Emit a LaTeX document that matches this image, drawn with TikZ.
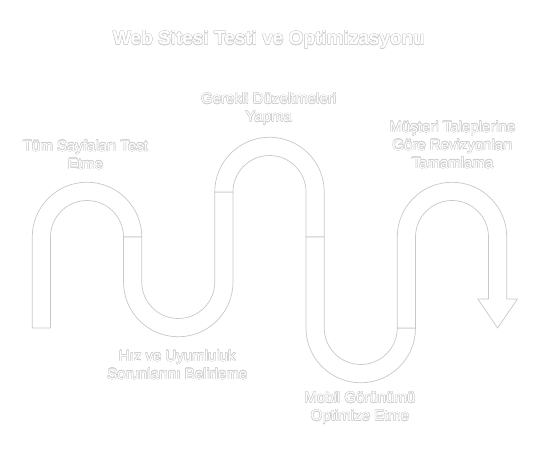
\documentclass[tikz,border=0pt]{standalone}
\usepackage{fontspec}
\setmainfont{Liberation Sans}
\usepackage[copies]{contour}
\contourlength{0.4pt}
\contournumber{16}
\definecolor{edgegray}{RGB}{200,200,200}
\definecolor{textgray}{RGB}{208,208,208}
\newcommand{\ol}[1]{\contour{textgray}{\textcolor{white}{#1}}}
\begin{document}
\begin{tikzpicture}[x=1pt,y=1pt,
  band/.style={draw=edgegray,fill=white,line width=0.7pt,line join=round},
  lbl/.style={inner sep=0pt,align=center,font=\fontsize{15}{18}\selectfont},
  ttl/.style={inner sep=0pt,align=center,font=\fontsize{19}{23}\selectfont\bfseries}]
\useasboundingbox (0,0) rectangle (540,467);
\fill[white] (0,0) rectangle (540,467);
% segment 1
\path[band] (32.25,139) -- (32.25,230) arc[start angle=180,end angle=0,radius=54.75pt]
  -- (123.5,230) arc[start angle=0,end angle=180,radius=36.5pt] -- (50.5,139) -- cycle;
% segment 2
\path[band] (123.5,230) -- (141.75,230) -- (141.75,185) arc[start angle=180,end angle=360,radius=36.5pt]
  -- (214.75,275) -- (233,275) -- (233,185) arc[start angle=0,end angle=-180,radius=54.75pt] -- cycle;
% segment 3
\path[band] (214.75,275) arc[start angle=180,end angle=0,radius=54.75pt]
  -- (324.25,230) -- (306,230) -- (306,275) arc[start angle=0,end angle=180,radius=36.5pt] -- cycle;
% segment 4
\path[band] (306,230) -- (324.25,230) -- (324.25,139) arc[start angle=180,end angle=360,radius=36.5pt]
  -- (415.5,139) arc[start angle=0,end angle=-180,radius=54.75pt] -- cycle;
% segment 5 with arrow
\path[band] (397.25,139) -- (397.25,230) arc[start angle=180,end angle=0,radius=54.75pt]
  -- (506.75,168) -- (517.4,168) -- (497.6,139) -- (477.8,168) -- (488.5,168)
  -- (488.5,230) arc[start angle=0,end angle=180,radius=36.5pt] -- (415.5,139) -- cycle;
% texts
\node[ttl] (title) at (269,427) {\ol{Web Sitesi Testi ve Optimizasyonu}};
\node[lbl] (l1) at (85.5,312) {\ol{Tüm Sayfaları Test}\\\ol{Etme}};
\node[lbl] (l2) at (268.7,358) {\ol{Gerekli Düzeltmeleri}\\\ol{Yapma}};
\node[lbl] (l3) at (452.5,322) {\ol{Müşteri Taleplerine}\\\ol{Göre Revizyonları}\\\ol{Tamamlama}};
\node[lbl] (l4) at (177.3,102) {\ol{Hız ve Uyumluluk}\\\ol{Sorunlarını Belirleme}};
\node[lbl] (l5) at (360,59) {\ol{Mobil Görünümü}\\\ol{Optimize Etme}};
\end{tikzpicture}
\end{document}
